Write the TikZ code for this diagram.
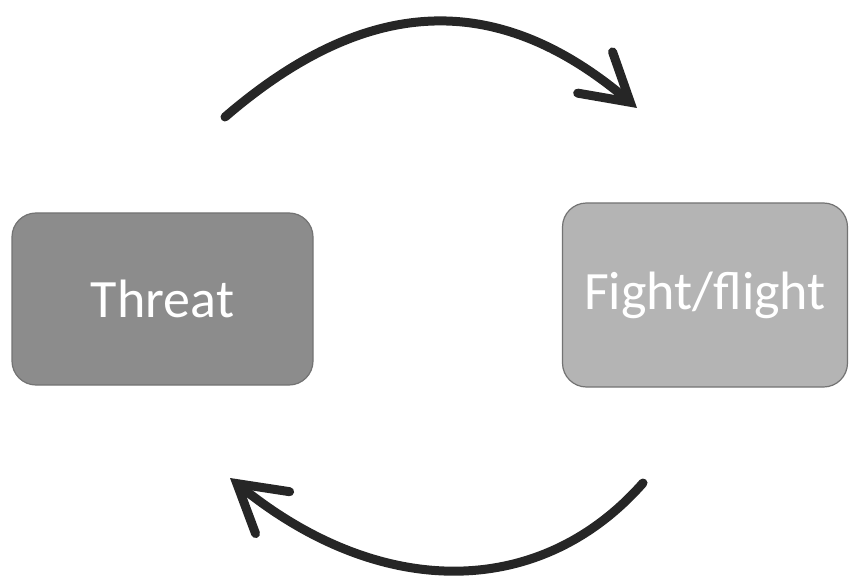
\documentclass[tikz,border=0pt]{standalone}
\usepackage{fontspec}
\setmainfont{Carlito}
\usepackage{xcolor}
\usetikzlibrary{arrows.meta,positioning,calc}

\definecolor{threatgray}{HTML}{8C8C8C}
\definecolor{fightgray}{HTML}{B4B4B4}

\tikzset{
  stagebox/.style={draw=black!55, line width=1.2pt, rounded corners=24pt, text=white,
    font=\fontsize{54}{60}\selectfont, inner sep=0pt, align=center},
  cyclearrow/.style={line width=9pt, black!85, line cap=round,
    -{Straight Barb[length=46pt, width=54pt, line cap=round, line join=miter]}}
}

\begin{document}
\begin{tikzpicture}[x=1pt, y=-1pt]
\useasboundingbox (0,0) rectangle (850,577);
% the two stages
\node[stagebox, fill=threatgray, minimum width=301pt, minimum height=172pt] (threat) at (162.5,299) {Threat};
\node[stagebox, fill=fightgray, minimum width=285pt, minimum height=184pt] (fight) at (705,295) {Fight/flight};
% arrow ends
\coordinate (topstart) at (225,117);
\coordinate (topend) at (637,108);
\coordinate (botstart) at (643,483);
\coordinate (botend) at (230,478);
% cycle arrows
\draw[cyclearrow] (topstart) .. controls (370,-8) and (500,-8) .. (topend);
\draw[cyclearrow] (botstart) .. controls (540,600) and (380,600) .. (botend);
\end{tikzpicture}
\end{document}
